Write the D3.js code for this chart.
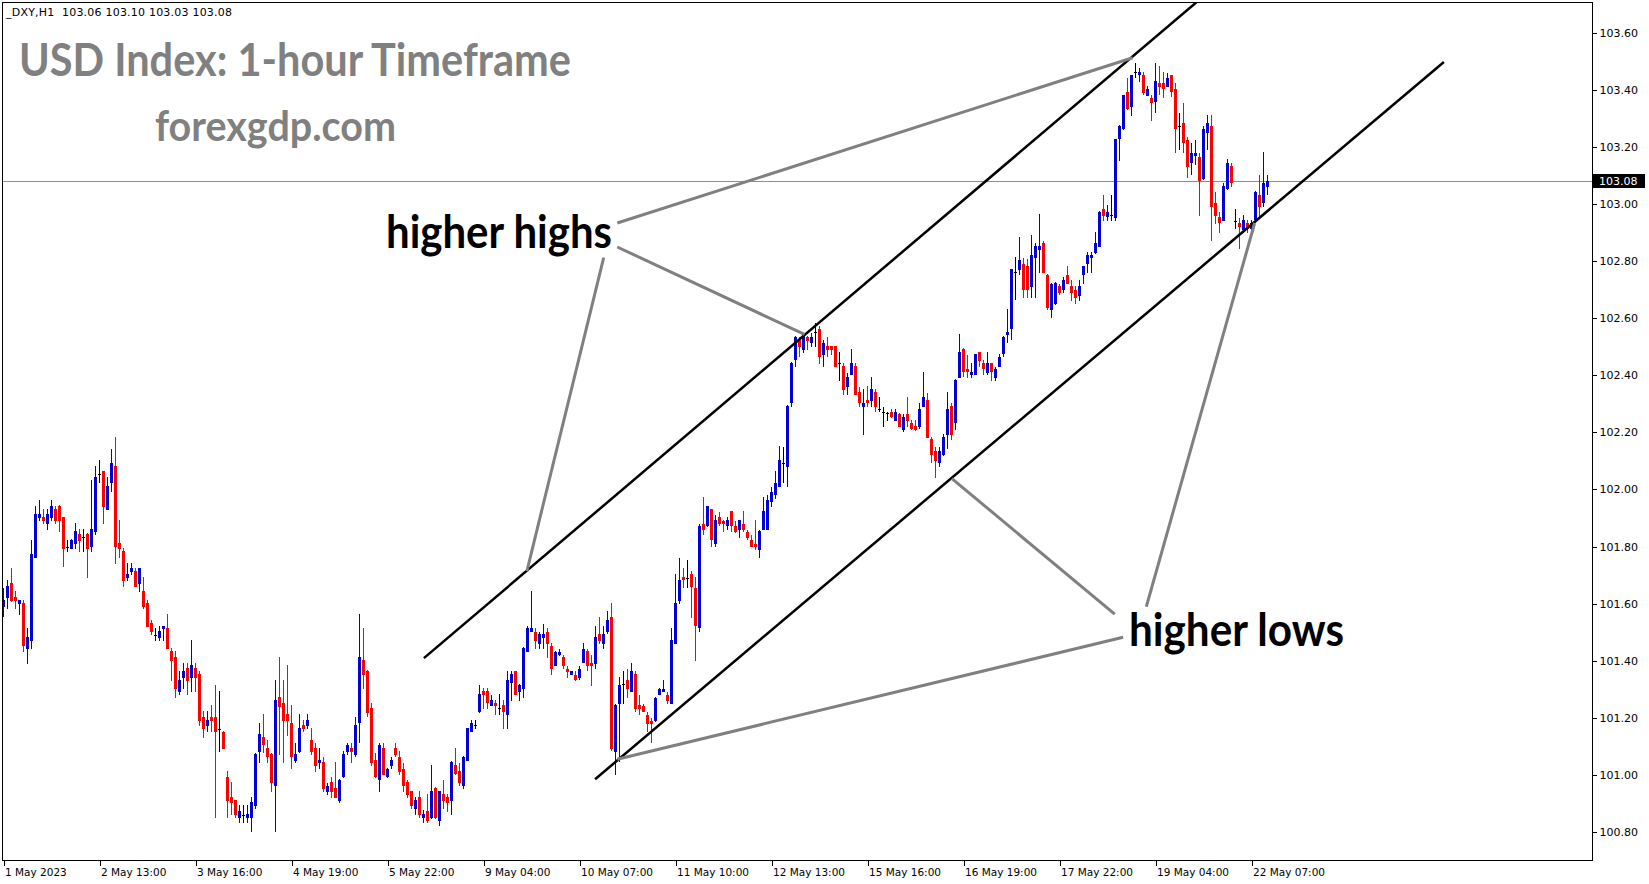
<!DOCTYPE html>
<html><head><meta charset="utf-8">
<script src="https://cdn.jsdelivr.net/npm/d3@7/dist/d3.min.js"></script>
<style>html,body{margin:0;padding:0;background:#fff;overflow:hidden}</style>
</head><body><svg id="c" width="1649" height="884" xmlns="http://www.w3.org/2000/svg"></svg>
<script>
// ---------- data (hourly OHLC, bar 0 = 1 May 2023) ----------
const open=[
101.589,101.620,101.672,101.623,101.599,101.602,101.442,101.470,101.761,101.900,
101.903,101.880,101.901,101.931,101.942,101.903,101.800,101.792,101.810,101.844,
101.833,101.844,101.799,101.852,102.054,102.064,101.929,102.021,102.082,101.812,
101.784,101.691,101.712,101.714,101.670,101.644,101.602,101.532,101.491,101.480,
101.511,101.514,101.434,101.413,101.291,101.340,101.374,101.340,101.374,101.353,
101.202,101.172,101.202,101.202,101.161,101.151,100.992,100.922,100.911,100.850,
100.860,100.850,100.850,100.892,101.080,101.133,101.093,101.073,100.962,101.273,
101.252,101.213,101.181,101.049,101.080,101.175,101.173,101.122,101.094,101.043,
101.045,100.940,100.975,100.954,100.910,100.992,101.080,101.093,101.071,101.181,
101.403,101.364,101.234,101.052,100.982,101.094,100.992,101.032,101.094,101.064,
101.022,100.975,100.942,100.882,100.921,100.849,100.872,100.849,100.954,100.840,
100.932,100.923,100.910,101.034,101.013,100.962,101.050,101.152,101.174,101.220,
101.293,101.293,101.243,101.252,101.233,101.244,101.211,101.321,101.363,101.291,
101.300,101.431,101.501,101.501,101.459,101.480,101.501,101.453,101.383,101.420,
101.412,101.372,101.351,101.351,101.341,101.393,101.433,101.391,101.390,101.493,
101.459,101.501,101.553,101.080,101.250,101.320,101.332,101.291,101.353,101.244,
101.243,101.211,101.190,101.189,101.281,101.291,101.281,101.250,101.460,101.610,
101.694,101.691,101.702,101.653,101.513,101.880,101.871,101.930,101.810,101.902,
101.891,101.871,101.923,101.871,101.859,101.880,101.851,101.822,101.810,101.789,
101.859,101.859,101.955,101.980,102.010,102.091,102.080,102.302,102.453,102.526,
102.488,102.535,102.512,102.550,102.562,102.471,102.502,102.502,102.502,102.442,
102.432,102.360,102.401,102.432,102.341,102.290,102.313,102.311,102.341,102.281,
102.271,102.266,102.271,102.241,102.264,102.208,102.264,102.231,102.222,102.220,
102.290,102.313,102.175,102.136,102.091,102.120,102.191,102.292,102.231,102.391,
102.492,102.422,102.401,102.401,102.481,102.442,102.407,102.442,102.391,102.430,
102.473,102.542,102.561,102.762,102.769,102.790,102.782,102.710,102.811,102.838,
102.862,102.751,102.628,102.649,102.712,102.698,102.751,102.712,102.700,102.677,
102.751,102.791,102.809,102.829,102.850,102.981,102.955,102.961,102.951,103.229,
103.261,103.393,103.340,103.461,103.450,103.451,103.379,103.370,103.358,103.422,
103.422,103.411,103.451,103.401,103.273,103.282,103.224,103.142,103.168,103.165,
103.086,103.249,103.273,103.002,102.955,102.941,103.051,103.133,102.941,102.934,
102.908,102.934,102.911,102.943,103.031,103.002,103.060];
const high=[
101.653,101.682,101.724,101.643,101.612,101.612,101.513,101.823,101.942,101.963,
101.931,101.931,101.963,101.942,101.945,101.905,101.823,101.825,101.882,101.861,
101.861,101.846,102.033,102.082,102.103,102.066,102.043,102.141,102.183,101.893,
101.795,101.742,101.742,101.724,101.726,101.693,101.612,101.542,101.514,101.521,
101.523,101.563,101.444,101.434,101.363,101.392,101.392,101.472,101.392,101.363,
101.223,101.223,101.244,101.314,101.293,101.153,101.013,100.975,100.913,100.894,
100.894,100.894,100.922,101.075,101.181,101.213,101.122,101.075,101.333,101.413,
101.333,101.385,101.244,101.113,101.213,101.192,101.213,101.164,101.113,101.094,
101.062,100.973,100.994,101.045,100.984,101.083,101.113,101.111,101.204,101.564,
101.514,101.366,101.252,101.076,101.111,101.111,101.024,101.064,101.111,101.083,
101.043,100.982,100.944,100.924,100.942,100.877,100.932,101.034,100.956,100.944,
100.982,100.932,101.050,101.094,101.043,101.065,101.166,101.192,101.192,101.314,
101.303,101.303,101.280,101.263,101.284,101.263,101.364,101.364,101.365,101.320,
101.447,101.521,101.643,101.513,101.501,101.530,101.513,101.462,101.433,101.440,
101.421,101.383,101.365,101.363,101.383,101.462,101.442,101.421,101.521,101.553,
101.521,101.573,101.602,101.250,101.343,101.363,101.372,101.391,101.363,101.281,
101.250,101.221,101.201,101.273,101.304,101.332,101.291,101.513,101.703,101.761,
101.725,101.752,101.713,101.694,101.880,101.972,101.943,101.932,101.910,101.921,
101.893,101.902,101.925,101.891,101.894,101.923,101.859,101.840,101.892,101.859,
101.972,101.982,102.010,102.066,102.152,102.150,102.294,102.446,102.537,102.535,
102.547,102.537,102.549,102.582,102.573,102.523,102.535,102.504,102.504,102.481,
102.442,102.407,102.492,102.442,102.358,102.351,102.362,102.393,102.351,102.323,
102.290,102.271,102.281,102.281,102.266,102.264,102.323,102.243,102.243,102.302,
102.411,102.337,102.185,102.150,102.150,102.194,102.341,102.304,102.385,102.544,
102.494,102.471,102.442,102.476,102.483,102.453,102.481,102.444,102.430,102.473,
102.537,102.633,102.773,102.813,102.883,102.810,102.806,102.891,102.862,102.963,
102.871,102.753,102.723,102.726,102.721,102.745,102.782,102.735,102.712,102.735,
102.784,102.832,102.832,102.902,102.975,103.031,102.996,103.031,103.228,103.275,
103.383,103.440,103.453,103.492,103.475,103.463,103.413,103.381,103.492,103.483,
103.463,103.460,103.453,103.422,103.319,103.354,103.235,103.212,103.224,103.177,
103.273,103.311,103.311,103.043,102.973,103.072,103.159,103.142,102.981,102.949,
102.961,102.943,102.943,103.045,103.101,103.183,103.100];
const low=[
101.552,101.582,101.605,101.582,101.561,101.431,101.389,101.442,101.758,101.890,
101.880,101.859,101.890,101.880,101.852,101.729,101.782,101.790,101.792,101.782,
101.782,101.691,101.782,101.841,102.021,101.880,101.927,101.992,101.740,101.761,
101.659,101.680,101.701,101.657,101.641,101.582,101.517,101.491,101.470,101.470,
101.470,101.440,101.330,101.270,101.281,101.302,101.281,101.291,101.291,101.172,
101.130,101.151,101.151,100.850,101.081,101.089,100.850,100.860,100.850,100.832,
100.832,100.832,100.801,100.881,101.043,101.076,101.043,100.940,100.801,101.071,
101.043,101.136,101.022,101.043,101.078,101.152,101.162,101.071,101.011,101.022,
100.940,100.930,100.920,100.918,100.903,100.990,101.071,101.043,101.062,101.111,
101.302,101.204,101.032,100.990,100.940,101.000,100.990,101.022,101.062,101.001,
100.940,100.920,100.881,100.860,100.849,100.833,100.833,100.847,100.847,100.822,
100.881,100.870,100.860,101.000,100.962,100.952,101.048,101.150,101.162,101.218,
101.232,101.232,101.241,101.211,101.211,101.162,101.162,101.260,101.279,101.259,
101.270,101.429,101.499,101.440,101.440,101.440,101.410,101.349,101.381,101.418,
101.372,101.341,101.349,101.330,101.332,101.391,101.363,101.312,101.372,101.459,
101.440,101.493,101.083,101.001,101.044,101.250,101.270,101.289,101.221,101.209,
101.219,101.149,101.110,101.187,101.279,101.289,101.250,101.248,101.458,101.600,
101.653,101.653,101.551,101.399,101.501,101.842,101.869,101.799,101.799,101.871,
101.851,101.859,101.851,101.849,101.830,101.851,101.822,101.797,101.789,101.760,
101.857,101.857,101.940,101.965,102.008,102.021,102.010,102.290,102.430,102.463,
102.477,102.488,102.500,102.500,102.439,102.430,102.463,102.471,102.428,102.381,
102.331,102.331,102.399,102.330,102.290,102.191,102.290,102.290,102.271,102.271,
102.220,102.241,102.250,102.239,102.218,102.202,102.220,102.208,102.206,102.210,
102.288,102.179,102.091,102.041,102.080,102.118,102.140,102.173,102.208,102.389,
102.395,102.391,102.391,102.399,102.430,102.401,102.401,102.381,102.381,102.428,
102.465,102.512,102.523,102.664,102.751,102.670,102.669,102.669,102.672,102.759,
102.757,102.628,102.602,102.647,102.681,102.689,102.719,102.661,102.651,102.661,
102.721,102.759,102.759,102.826,102.848,102.941,102.941,102.941,102.941,103.151,
103.259,103.329,103.309,103.440,103.428,103.381,103.377,103.291,103.319,103.381,
103.370,103.409,103.375,103.179,103.189,103.179,103.089,103.101,103.136,102.957,
103.084,103.189,102.871,102.929,102.899,102.939,103.049,103.060,102.911,102.841,
102.899,102.899,102.908,102.937,102.955,102.990,103.030];
const close=[
101.612,101.661,101.610,101.610,101.612,101.452,101.483,101.773,101.914,101.914,
101.890,101.914,101.942,101.890,101.890,101.792,101.800,101.823,101.854,101.820,
101.833,101.792,101.861,102.043,102.054,101.939,102.012,102.092,101.799,101.792,
101.680,101.703,101.724,101.659,101.724,101.589,101.519,101.501,101.491,101.504,
101.521,101.442,101.400,101.302,101.332,101.363,101.330,101.385,101.340,101.189,
101.161,101.192,101.189,101.151,101.161,101.091,100.909,100.902,100.860,100.873,
100.860,100.862,100.904,101.073,101.143,101.104,101.062,100.973,101.263,101.239,
101.190,101.190,101.062,101.073,101.164,101.162,101.192,101.080,101.032,101.052,
100.952,100.962,100.940,100.920,100.982,101.073,101.105,101.080,101.175,101.413,
101.351,101.216,101.043,100.992,101.105,101.001,101.022,101.052,101.071,101.011,
100.962,100.930,100.891,100.912,100.860,100.862,100.840,100.942,100.849,100.942,
100.910,100.903,101.045,101.002,100.973,101.063,101.164,101.181,101.174,101.284,
101.280,101.252,101.263,101.243,101.233,101.220,101.333,101.354,101.281,101.314,
101.445,101.513,101.513,101.469,101.493,101.493,101.459,101.372,101.431,101.432,
101.383,101.362,101.363,101.332,101.372,101.442,101.382,101.383,101.482,101.469,
101.493,101.542,101.091,101.244,101.314,101.320,101.302,101.363,101.230,101.230,
101.221,101.180,101.180,101.271,101.302,101.302,101.259,101.472,101.602,101.682,
101.682,101.691,101.659,101.521,101.871,101.857,101.941,101.822,101.892,101.880,
101.880,101.892,101.871,101.851,101.892,101.859,101.830,101.799,101.799,101.854,
101.923,101.962,101.990,102.021,102.103,102.091,102.292,102.444,102.535,102.500,
102.544,102.521,102.535,102.550,102.462,102.512,102.488,102.488,102.430,102.442,
102.348,102.395,102.442,102.332,102.302,102.302,102.302,102.351,102.290,102.281,
102.271,102.266,102.252,102.271,102.220,102.255,102.241,102.210,102.208,102.281,
102.323,102.181,102.120,102.099,102.136,102.185,102.281,102.191,102.383,102.481,
102.412,102.410,102.411,102.474,102.451,102.421,102.442,102.411,102.421,102.463,
102.535,102.551,102.771,102.762,102.804,102.700,102.698,102.821,102.852,102.852,
102.759,102.637,102.721,102.724,102.689,102.733,102.721,102.689,102.672,102.712,
102.782,102.821,102.821,102.862,102.973,102.959,102.973,102.961,103.226,103.273,
103.381,103.331,103.451,103.461,103.463,103.389,103.402,103.352,103.430,103.411,
103.401,103.440,103.391,103.261,103.273,103.212,103.130,103.179,103.179,103.081,
103.261,103.282,102.990,102.959,102.932,103.062,103.142,103.072,102.941,102.920,
102.943,102.911,102.934,103.043,102.990,103.072,103.080];

const timeLabels=["1 May 2023","2 May 13:00","3 May 16:00","4 May 19:00","5 May 22:00","9 May 04:00","10 May 07:00",
  "11 May 10:00","12 May 13:00","15 May 16:00","16 May 19:00","17 May 22:00","19 May 04:00","22 May 07:00"];
const timeLabelBars=[0,24,48,72,96,120,144,168,192,216,240,264,288,312];
const priceTicks=[100.8,101.0,101.2,101.4,101.6,101.8,102.0,102.2,102.4,102.6,102.8,103.0,103.2,103.4,103.6];
const symbolInfo="_DXY,H1  103.06 103.10 103.03 103.08";
const lastPrice=103.08;
const titleText="USD Index: 1-hour Timeframe";
const siteText="forexgdp.com";
// channel lines: [bar1, price1, bar2, price2]
const channelLines=[[105.1,101.409,298.3,103.707],[147.9,100.985,360.1,103.497]];
// pointer lines from labels to swing points
const pointerLines=[[153.45,102.933,282.3,103.512],[153.45,102.849,200.25,102.543],[150.05,102.812,130.85,101.714],
  [277.8,101.563,237.1,102.038],[279.9,101.482,153.45,101.055],[285.7,101.589,312.8,102.933]];
const labelTexts=["higher highs","higher lows"];

// ---------- layout ----------
const W=1649,H=884;
const plot={left:2,top:2,right:1592,bottom:860};
const svg=d3.select("#c");
svg.append("rect").attr("width",W).attr("height",H).attr("fill","#fff");

const x=d3.scaleLinear().domain([0,397]).range([3.5,1591.5]);
const y=d3.scaleLinear().domain([100.8,103.6]).range([832,32.6]);

svg.append("defs").append("clipPath").attr("id","clip").append("rect")
  .attr("x",plot.left).attr("y",plot.top).attr("width",plot.right-plot.left).attr("height",plot.bottom-plot.top);

// last price line
svg.append("line").attr("x1",plot.left).attr("x2",plot.right)
  .attr("y1",Math.round(y(lastPrice))+0.5).attr("y2",Math.round(y(lastPrice))+0.5)
  .attr("stroke","#8090a0").attr("stroke-width",1);

// candles
const bars=d3.range(open.length).map(i=>({i,o:open[i],h:high[i],l:low[i],c:close[i]}));
const BLUE="#0000D8",RED="#FF0000";
const colorOf=d=>d.c>d.o?BLUE:(d.c<d.o?RED:"#000");
const cg=svg.append("g").attr("clip-path","url(#clip)").attr("shape-rendering","crispEdges");
cg.selectAll("rect.wick").data(bars).join("rect").attr("class","wick")
  .attr("x",d=>x(d.i)-0.5).attr("width",1)
  .attr("y",d=>y(d.h)).attr("height",d=>Math.max(1,y(d.l)-y(d.h)))
  .attr("fill",colorOf);
cg.selectAll("rect.body").data(bars).join("rect").attr("class","body")
  .attr("x",d=>x(d.i)-1.5).attr("width",3)
  .attr("y",d=>y(Math.max(d.o,d.c)))
  .attr("height",d=>Math.max(1,Math.abs(y(d.o)-y(d.c))))
  .attr("fill",colorOf);

// frame
svg.append("rect").attr("x",plot.left+0.5).attr("y",plot.top+0.5)
  .attr("width",plot.right-plot.left).attr("height",plot.bottom-plot.top)
  .attr("fill","none").attr("stroke","#000").attr("stroke-width",1).attr("shape-rendering","crispEdges");

// axes
const axFont="'DejaVu Sans', Tahoma, sans-serif";
const ay=svg.append("g").attr("transform",`translate(${plot.right+0.5},0)`)
  .call(d3.axisRight(y).tickValues(priceTicks).tickFormat(d3.format(".2f")).tickSize(4).tickPadding(3));
ay.select(".domain").remove();
ay.selectAll("text").attr("font-family",axFont).attr("font-size",11).attr("fill","#000");
ay.selectAll("line").attr("stroke","#000").attr("shape-rendering","crispEdges");

const ax=svg.append("g").attr("transform",`translate(0,${plot.bottom+0.5})`)
  .call(d3.axisBottom(x).tickValues(timeLabelBars).tickFormat((d,k)=>timeLabels[k]).tickSize(5).tickPadding(3));
ax.select(".domain").remove();
ax.selectAll("text").attr("font-family",axFont).attr("font-size",10.5).attr("fill","#000")
  .attr("text-anchor","start").attr("dx",1);
ax.selectAll("line").attr("stroke","#000").attr("shape-rendering","crispEdges");

// last price tag
const ly=y(lastPrice);
svg.append("rect").attr("x",plot.right+1).attr("y",Math.round(ly)-7).attr("width",52).attr("height",14).attr("fill","#000");
svg.append("text").attr("x",plot.right+7).attr("y",ly).attr("dy","0.36em")
  .attr("font-family",axFont).attr("font-size",11).attr("fill","#fff").text(d3.format(".2f")(lastPrice));

// header
svg.append("text").attr("x",6).attr("y",16).attr("font-family",axFont).attr("font-size",11).attr("fill","#000")
  .style("white-space","pre").attr("textLength",226).attr("lengthAdjust","spacing").text(symbolInfo);

// objects
const og=svg.append("g").attr("clip-path","url(#clip)");
og.selectAll("line.ch").data(channelLines).join("line").attr("class","ch")
  .attr("x1",d=>x(d[0])).attr("y1",d=>y(d[1])).attr("x2",d=>x(d[2])).attr("y2",d=>y(d[3]))
  .attr("stroke","#000").attr("stroke-width",2.5);
og.selectAll("line.pt").data(pointerLines).join("line").attr("class","pt")
  .attr("x1",d=>x(d[0])).attr("y1",d=>y(d[1])).attr("x2",d=>x(d[2])).attr("y2",d=>y(d[3]))
  .attr("stroke","#808080").attr("stroke-width",3);

const bigFont="Lato, 'Open Sans', sans-serif";
svg.append("text").attr("x",19).attr("y",76).attr("font-family",bigFont).attr("font-weight","bold")
  .attr("font-size",45).attr("fill","#808080").attr("textLength",552).attr("lengthAdjust","spacingAndGlyphs").text(titleText);
svg.append("text").attr("x",155).attr("y",141).attr("font-family",bigFont).attr("font-weight","bold")
  .attr("font-size",42).attr("fill","#808080").attr("textLength",241).attr("lengthAdjust","spacingAndGlyphs").text(siteText);
svg.append("text").attr("x",386).attr("y",248).attr("font-family",bigFont).attr("font-weight","bold")
  .attr("font-size",46).attr("fill","#000").attr("textLength",226).attr("lengthAdjust","spacingAndGlyphs").text(labelTexts[0]);
svg.append("text").attr("x",1129).attr("y",646).attr("font-family",bigFont).attr("font-weight","bold")
  .attr("font-size",46).attr("fill","#000").attr("textLength",215).attr("lengthAdjust","spacingAndGlyphs").text(labelTexts[1]);
</script>
</body></html>
